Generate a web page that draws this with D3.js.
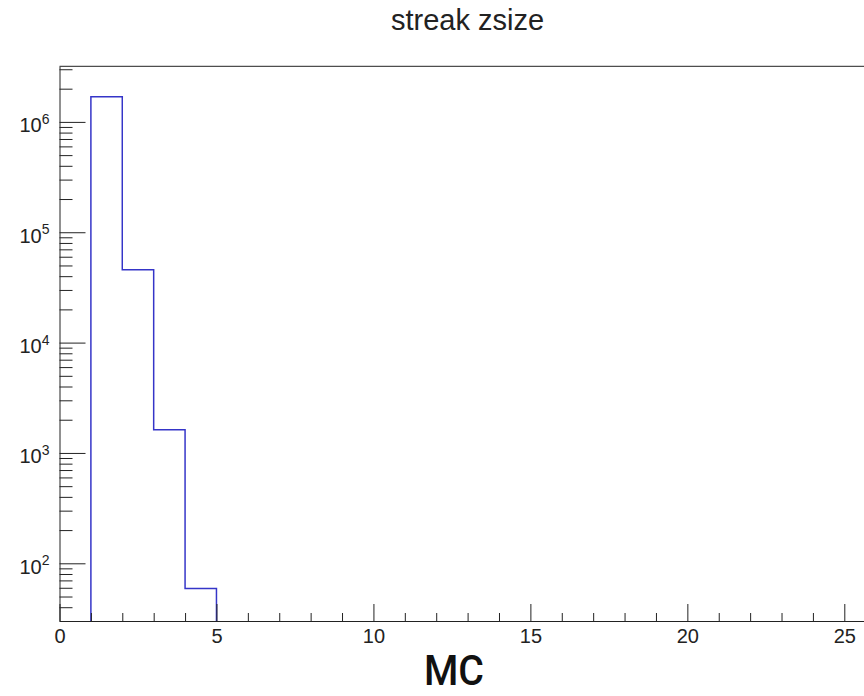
<!DOCTYPE html>
<html>
<head>
<meta charset="utf-8">
<script src="https://cdn.jsdelivr.net/npm/d3@7"></script>
<style>
  html, body { margin: 0; padding: 0; background: #fff; }
  svg { display: block; }
</style>
</head>
<body>
<svg id="chart" width="864" height="696"></svg>
<script>
// ---- data ----
const title = "streak zsize";
const xLabel = "MC";
const binEdgesLow = [0, 1, 2, 3, 4, 5, 6, 7, 8, 9, 10, 11, 12, 13, 14, 15, 16, 17, 18, 19, 20, 21, 22, 23, 24, 25];
const binWidth = 1;
const counts = [0, 1690000, 45800, 1620, 59, 0, 0, 0, 0, 0, 0, 0, 0, 0, 0, 0, 0, 0, 0, 0, 0, 0, 0, 0, 0, 0];
const xMajorTicks = [0, 5, 10, 15, 20, 25];
const yDecadeExponents = [2, 3, 4, 5, 6];

(function () {
// ---- layout ----
const svg = d3.select("#chart");
const mLeft = 59.5, mRight = 875.7, mTop = 66.3, mBottom = 621;

const x = d3.scaleLinear().domain([0, 26]).range([mLeft, mRight]);
const y = d3.scaleLog().domain([30, 3.19e6]).range([mBottom, mTop]);

svg.append("defs").append("clipPath").attr("id", "plotclip")
  .append("rect").attr("x", mLeft).attr("y", mTop).attr("width", mRight - mLeft).attr("height", mBottom - mTop);

// ---- histogram step line ----
const pts = [];
const below = mBottom + 6;
pts.push([x(binEdgesLow[0]), below]);
binEdgesLow.forEach((lo, i) => {
  const c = counts[i];
  const yy = c > 0 ? y(c) : below;
  pts.push([x(lo), yy]);
  pts.push([x(lo + binWidth), yy]);
});
pts.push([x(binEdgesLow[binEdgesLow.length - 1] + binWidth), below]);

svg.append("path")
  .attr("clip-path", "url(#plotclip)")
  .attr("d", d3.line()(pts))
  .attr("fill", "none")
  .attr("stroke", "#3535c8")
  .attr("stroke-width", 1.5);

// ---- frame ----
svg.append("line").attr("x1", mLeft).attr("x2", 864).attr("y1", mTop).attr("y2", mTop)
  .attr("stroke", "#222").attr("stroke-width", 1);

// ---- x axis ----
const xMinor = binEdgesLow.concat([26]).filter(v => xMajorTicks.indexOf(v) < 0);
const xMinorAxis = d3.axisBottom(x).tickValues(xMinor).tickSizeInner(-8).tickSizeOuter(0).tickFormat("");
svg.append("g").attr("transform", `translate(0,${mBottom})`).call(xMinorAxis)
  .call(g => g.select(".domain").remove())
  .selectAll("line").attr("stroke", "#222");

const xAxis = d3.axisBottom(x).tickValues(xMajorTicks).tickSizeInner(-17).tickSizeOuter(0).tickPadding(8).tickFormat(d3.format("d"));
const gx = svg.append("g").attr("transform", `translate(0,${mBottom})`).call(xAxis);
gx.select(".domain").attr("stroke", "#222");
gx.selectAll("line").attr("stroke", "#222");
gx.selectAll("text").attr("font-family", "Liberation Sans, Arial, sans-serif").attr("font-size", 20).attr("fill", "#222");

// ---- y axis ----
const yMinor = [];
yDecadeExponents.concat([1]).forEach(e => {
  [2, 3, 4, 5, 6, 7, 8, 9].forEach(m => {
    const v = m * Math.pow(10, e);
    if (v >= 30 && v <= 3.19e6) yMinor.push(v);
  });
});
const yMinorAxis = d3.axisLeft(y).tickValues(yMinor).tickSizeInner(-13).tickSizeOuter(0).tickFormat("");
svg.append("g").attr("transform", `translate(${mLeft},0)`).call(yMinorAxis)
  .call(g => g.select(".domain").remove())
  .selectAll("line").attr("stroke", "#222");

const yAxis = d3.axisLeft(y).tickValues(yDecadeExponents.map(e => Math.pow(10, e)))
  .tickSizeInner(-26).tickSizeOuter(0).tickPadding(10).tickFormat(() => "");
const gy = svg.append("g").attr("transform", `translate(${mLeft},0)`).call(yAxis);
gy.select(".domain").attr("stroke", "#222");
gy.selectAll("line").attr("stroke", "#222");
gy.selectAll("text")
  .attr("font-family", "Liberation Sans, Arial, sans-serif").attr("font-size", 20).attr("fill", "#222")
  .attr("dy", "0.5em")
  .each(function(d, i) {
    const t = d3.select(this);
    t.text("10");
    t.append("tspan").attr("dy", -8.5).attr("font-size", 14).text(yDecadeExponents[i]);
  });

// ---- title and axis label ----
svg.append("text").attr("x", 467.5).attr("y", 30).attr("text-anchor", "middle")
  .attr("font-family", "Liberation Sans, Arial, sans-serif").attr("font-size", 29).attr("fill", "#222")
  .text(title);

svg.append("text").attr("x", 454).attr("y", 685).attr("text-anchor", "middle")
  .attr("font-family", "Roboto, sans-serif").attr("font-weight", 500).attr("font-size", 42)
  .attr("textLength", 60).attr("lengthAdjust", "spacingAndGlyphs").attr("fill", "#111")
  .text(xLabel);
})();
</script>
</body>
</html>
